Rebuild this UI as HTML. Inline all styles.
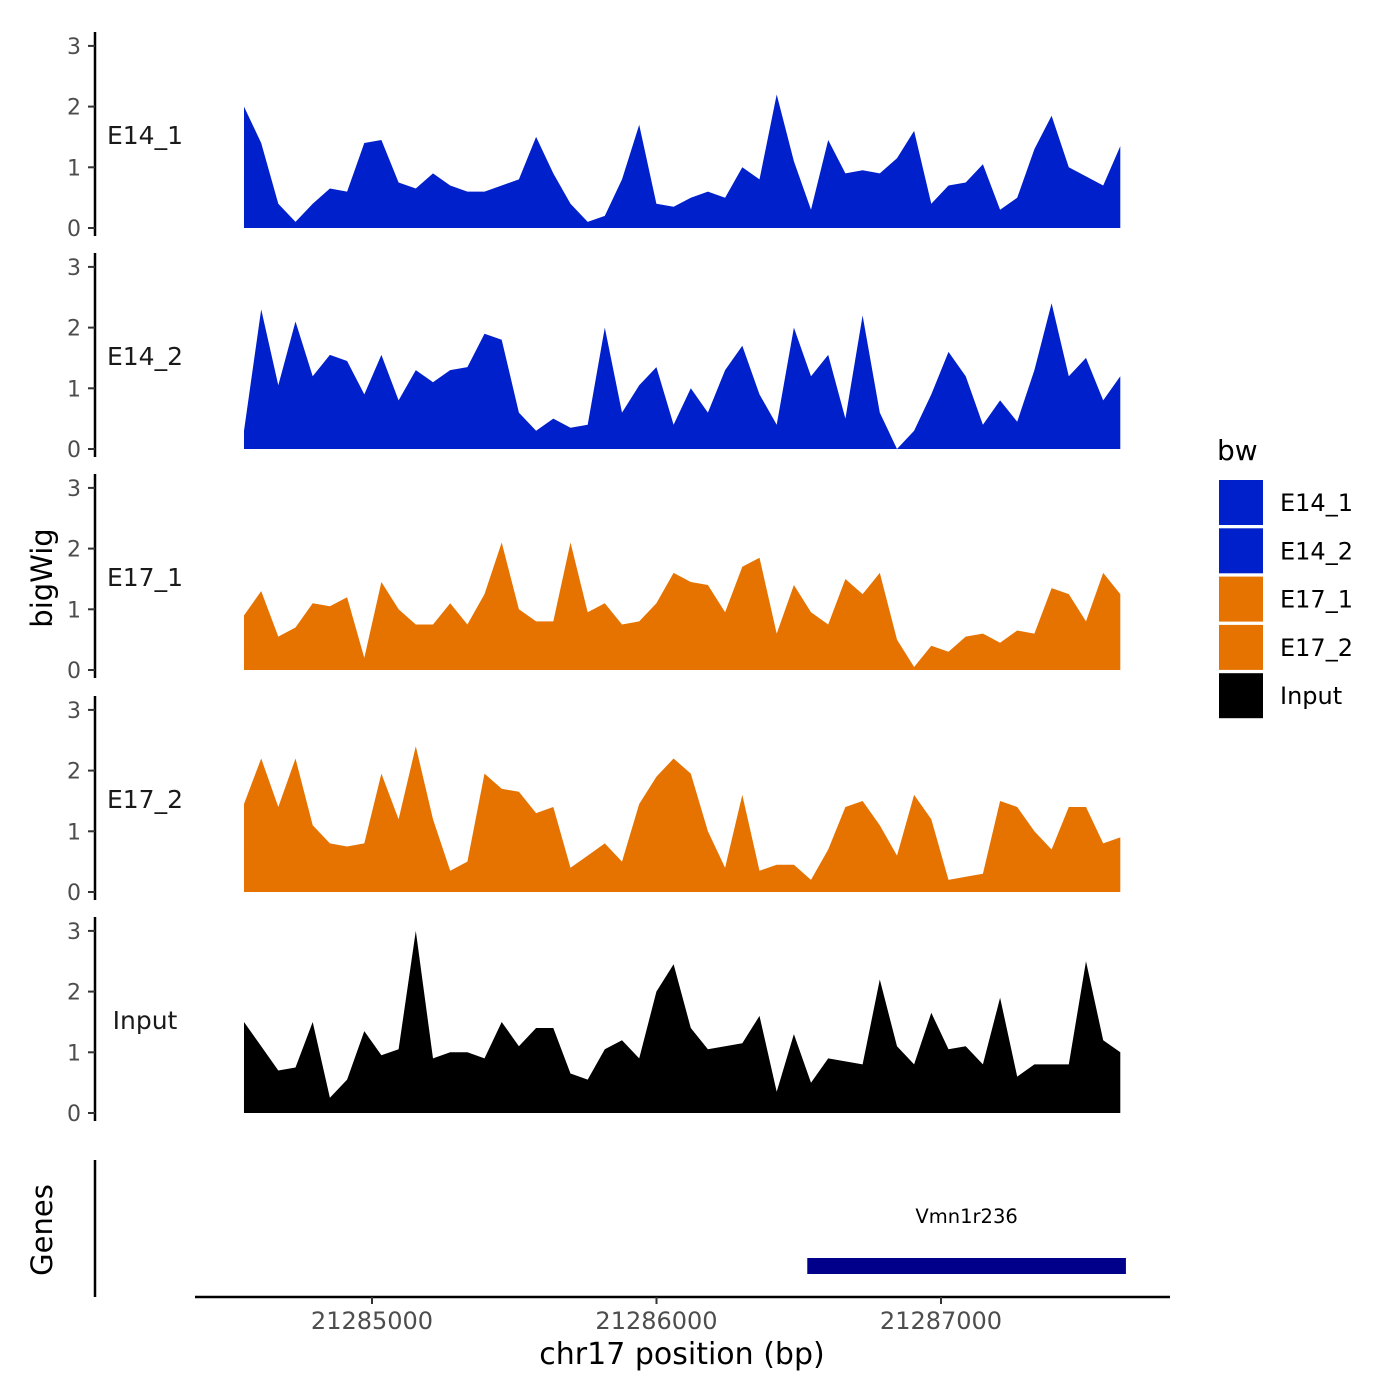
<!DOCTYPE html>
<html><head><meta charset="utf-8"><style>
body{margin:0;background:#fff}
svg{display:block;font-family:"DejaVu Sans","Liberation Sans",sans-serif}
</style></head><body>
<svg id="chart" width="1400" height="1400" xmlns="http://www.w3.org/2000/svg"></svg>
<script>
const trackNames = ["E14_1","E14_2","E17_1","E17_2","Input"];
const trackColors = ["#0020cc","#0020cc","#e67300","#e67300","#000000"];
const bpStart = 21284550, bpStep = 60.4;
const e14_1 = [2.0,1.4,0.4,0.1,0.4,0.65,0.6,1.4,1.45,0.75,0.65,0.9,0.7,0.6,0.6,0.7,0.8,1.5,0.9,0.4,0.1,0.2,0.8,1.7,0.4,0.35,0.5,0.6,0.5,1.0,0.8,2.2,1.1,0.3,1.45,0.9,0.95,0.9,1.15,1.6,0.4,0.7,0.75,1.05,0.3,0.5,1.3,1.85,1.0,0.85,0.7,1.35];
const e14_2 = [0.3,2.3,1.05,2.1,1.2,1.55,1.45,0.9,1.55,0.8,1.3,1.1,1.3,1.35,1.9,1.8,0.6,0.3,0.5,0.35,0.4,2.0,0.6,1.05,1.35,0.4,1.0,0.6,1.3,1.7,0.9,0.4,2.0,1.2,1.55,0.5,2.2,0.6,0.0,0.3,0.9,1.6,1.2,0.4,0.8,0.45,1.3,2.4,1.2,1.5,0.8,1.2];
const e17_1 = [0.9,1.3,0.55,0.7,1.1,1.05,1.2,0.2,1.45,1.0,0.75,0.75,1.1,0.75,1.25,2.1,1.0,0.8,0.8,2.1,0.95,1.1,0.75,0.8,1.1,1.6,1.45,1.4,0.95,1.7,1.85,0.6,1.4,0.95,0.75,1.5,1.25,1.6,0.5,0.05,0.4,0.3,0.55,0.6,0.45,0.65,0.6,1.35,1.25,0.8,1.6,1.25];
const e17_2 = [1.45,2.2,1.4,2.2,1.1,0.8,0.75,0.8,1.95,1.2,2.4,1.2,0.35,0.5,1.95,1.7,1.65,1.3,1.4,0.4,0.6,0.8,0.5,1.45,1.9,2.2,1.95,1.0,0.4,1.6,0.35,0.45,0.45,0.2,0.7,1.4,1.5,1.1,0.6,1.6,1.2,0.2,0.25,0.3,1.5,1.4,1.0,0.7,1.4,1.4,0.8,0.9];
const input = [1.5,1.1,0.7,0.75,1.5,0.25,0.55,1.35,0.95,1.05,3.0,0.9,1.0,1.0,0.9,1.5,1.1,1.4,1.4,0.65,0.55,1.05,1.2,0.9,2.0,2.45,1.4,1.05,1.1,1.15,1.6,0.35,1.3,0.5,0.9,0.85,0.8,2.2,1.1,0.8,1.65,1.05,1.1,0.8,1.9,0.6,0.8,0.8,0.8,2.5,1.2,1.0];
const seriesList = [e14_1,e14_2,e17_1,e17_2,input];
const yTicks = [0,1,2,3];
const xTicks = [21285000,21286000,21287000];
const gene = {name:"Vmn1r236", start:21286530, end:21287650};

const NS="http://www.w3.org/2000/svg";
const svg=document.getElementById('chart');
function el(t,a,p){const e=document.createElementNS(NS,t);for(const k in a)e.setAttribute(k,a[k]);(p||svg).appendChild(e);return e;}
const xScale = bp => 372 + (bp-21285000)*0.2845;
const zeros=[228,449,670,892,1113];
const unit=60.7;

trackNames.forEach((nm,ti)=>{
  const z=zeros[ti];
  const g=el('g',{});
  
  
  const y=v=>z-v*unit;
  const ser=seriesList[ti];
  let d='M'+xScale(bpStart)+','+z;
  ser.forEach((v,i)=>{d+=' L'+xScale(bpStart+i*bpStep).toFixed(1)+','+y(v).toFixed(1);});
  d+=' L'+xScale(bpStart+(ser.length-1)*bpStep).toFixed(1)+','+z+' Z';
  const p=el('path',{d:d,fill:trackColors[ti]},g);
  
  
  const ax=el('line',{x1:95,x2:95,y1:z-196,y2:z+8,stroke:'#000','stroke-width':2.5},g);
  
  
  yTicks.forEach(t=>{
    el('line',{x1:88,x2:95,y1:y(t),y2:y(t),stroke:'#333','stroke-width':2},g);
    const tx=el('text',{x:81,y:y(t)+8,'text-anchor':'end','font-size':22,fill:'#4d4d4d'},g);
    tx.textContent=t;
    
    
  });
  const lb=el('text',{x:145,y:z-84,'text-anchor':'middle','font-size':25,fill:'#1a1a1a'},g);
  lb.textContent=nm;
  
  
});
</script>
<script>
(function(){
const NS="http://www.w3.org/2000/svg";const svg=document.getElementById('chart');
function el(t,a){const e=document.createElementNS(NS,t);for(const k in a)e.setAttribute(k,a[k]);svg.appendChild(e);return e;}
const xScale = bp => 372 + (bp-21285000)*0.2845;
let e;
e=el('line',{x1:95,x2:95,y1:1160,y2:1297,stroke:'#000','stroke-width':2.5});

e=el('line',{x1:195,x2:1170,y1:1297,y2:1297,stroke:'#000','stroke-width':2.5});

xTicks.forEach(t=>{
  el('line',{x1:xScale(t),x2:xScale(t),y1:1297,y2:1304,stroke:'#333','stroke-width':2});
  const tx=el('text',{x:xScale(t),y:1329,'text-anchor':'middle','font-size':24,fill:'#4d4d4d'});
  tx.textContent=t;
  
});
e=el('rect',{x:xScale(gene.start),y:1258,width:xScale(gene.end)-xScale(gene.start),height:16,fill:'#00008b'});

e=el('text',{x:(xScale(gene.start)+xScale(gene.end))/2,y:1223,'text-anchor':'middle','font-size':19.5,fill:'#000'});
e.textContent=gene.name;
e=el('text',{x:682,y:1364,'text-anchor':'middle','font-size':30,fill:'#000'});
e.textContent='chr17 position (bp)';
e=el('text',{x:0,y:0,'text-anchor':'middle','font-size':29,fill:'#000',transform:'translate(52,578) rotate(-90)'});
e.textContent='bigWig';
e=el('text',{x:0,y:0,'text-anchor':'middle','font-size':29,fill:'#000',transform:'translate(52,1230) rotate(-90)'});
e.textContent='Genes';
e=el('text',{x:1217,y:460,'font-size':28,fill:'#000'});
e.textContent='bw';
trackNames.forEach((n,i)=>{
  const y0=480+i*48.3;
  const r=el('rect',{x:1219,y:y0,width:44,height:45,fill:trackColors[i]});
  
  const t=el('text',{x:1280,y:y0+31,'font-size':24,fill:'#000'});
  t.textContent=n;
});
})();
</script>
</body></html>
